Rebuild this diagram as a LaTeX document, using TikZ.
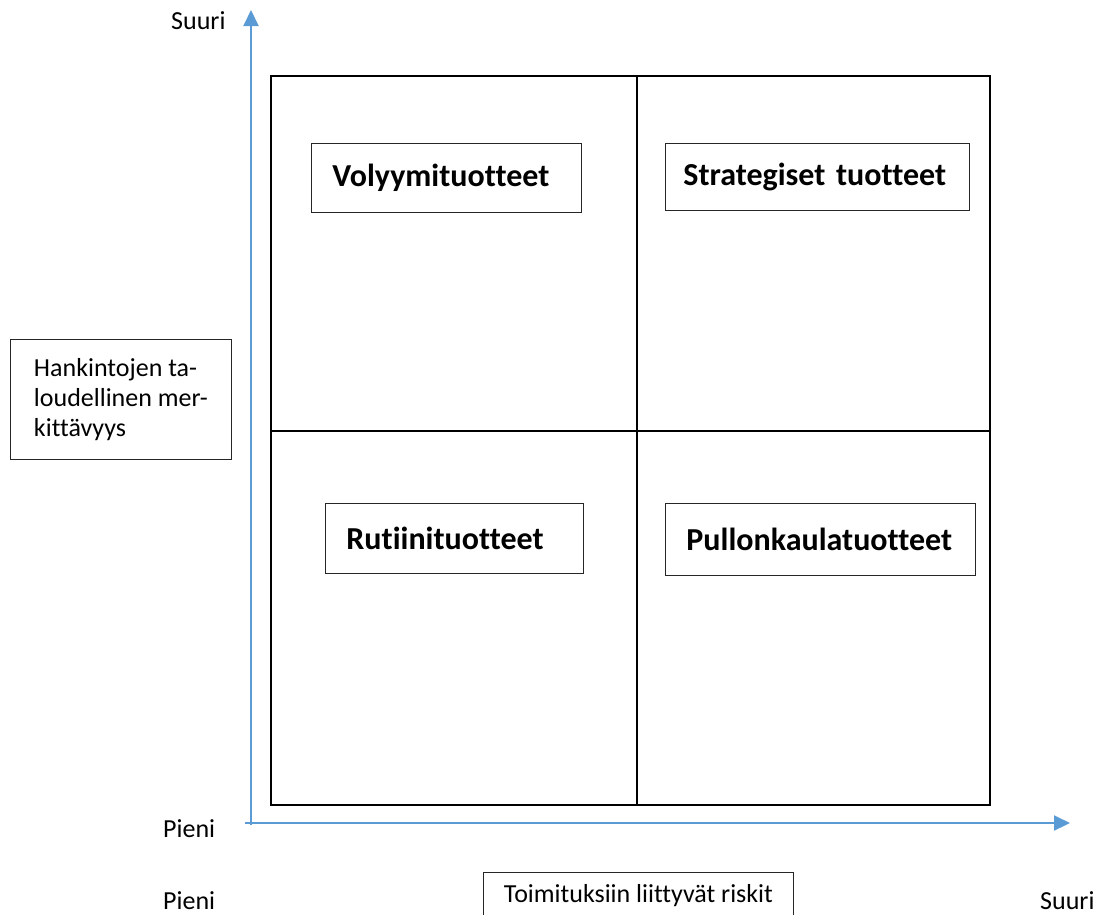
\documentclass[tikz,border=0pt]{standalone}
\usepackage{fontspec}
\setmainfont{Carlito}[Ligatures=NoCommon]
\usetikzlibrary{arrows.meta}
\definecolor{axisblue}{HTML}{5B9BD5}
\begin{document}
\begin{tikzpicture}[x=1pt,y=-1pt,
  frameline/.style={draw=black,line width=2.2pt},
  axisline/.style={draw=axisblue,line width=2pt,-{Triangle[width=15pt,length=16pt]}},
  catbox/.style={draw=black!85,line width=0.9pt,fill=white,anchor=north west,
    align=left,inner xsep=21pt,inner ysep=0pt,
    font=\fontsize{32}{38}\selectfont\bfseries},
  plain/.style={font=\fontsize{26}{30}\selectfont,anchor=base west,inner sep=0pt},
  textbox/.style={draw=black!85,line width=0.9pt,fill=white,anchor=north west,
    align=left,font=\fontsize{26}{30}\selectfont}
]
\useasboundingbox (0,0) rectangle (1105,914);
% axes
\coordinate (o) at (251,825);
\coordinate (ytip) at (251,10);
\coordinate (xo) at (245,823);
\coordinate (xtip) at (1070,823);
\draw[axisline] (o) -- (ytip);
\draw[axisline] (xo) -- (xtip);
% quadrant frame
\draw[frameline] (271,76) rectangle (990,805);
\draw[frameline] (637,76) -- (637,805);
\draw[frameline] (271,431) -- (990,431);
% category boxes
\node[catbox,text width=228pt,minimum height=69pt] (vol) at (311,143) {Volyymituotteet};
\node[catbox,inner xsep=18pt,text width=268pt,minimum height=67pt] (str) at (665,143) {Strategiset tuotteet};
\node[catbox,text width=216pt,minimum height=70pt] (rut) at (325,503) {Rutiinituotteet};
\node[catbox,text width=268pt,minimum height=72pt] (pul) at (665,503) {Pullonkaulatuotteet};
% y-axis title box
\node[textbox,minimum width=221pt,inner xsep=22pt,inner ysep=19pt] (ylab) at (10,339) {Hankintojen ta-\\loudellinen mer-\\kittävyys};
% x-axis title box (cut at the bottom edge)
\node[textbox,minimum width=310pt,inner xsep=20pt,inner ysep=12pt,minimum height=70pt] (xlab) at (483,872) {Toimituksiin liittyvät riskit\\[30pt]};
% end labels
\node[plain] (ysuuri) at (171,29) {Suuri};
\node[plain] (ypieni) at (163,837) {Pieni};
\node[plain] (xpieni) at (163,909) {Pieni};
\node[plain] (xsuuri) at (1040,909) {Suuri};
\end{tikzpicture}
\end{document}
